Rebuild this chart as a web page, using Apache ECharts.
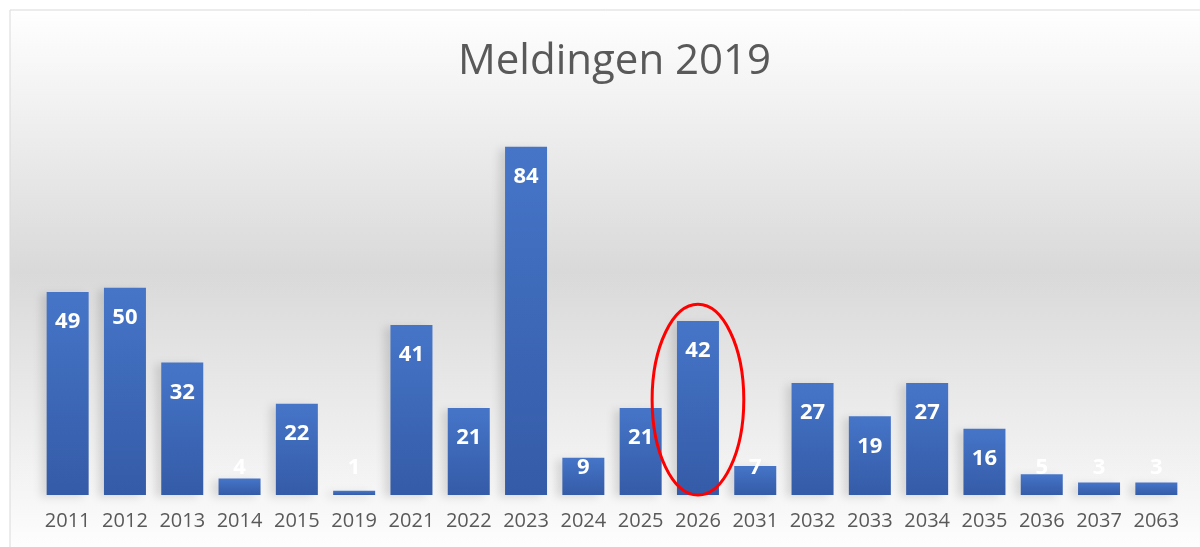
<!DOCTYPE html>
<html>
<head>
<meta charset="utf-8">
<title>Meldingen 2019</title>
<script src="https://cdn.jsdelivr.net/npm/echarts@6/dist/echarts.min.js"></script>
<style>
  html, body { margin: 0; padding: 0; background: #ffffff; }
  #chart { width: 1200px; height: 547px; }
</style>
</head>
<body>
<div id="chart"></div>
<script>
const categories = ['2011', '2012', '2013', '2014', '2015', '2019', '2021', '2022', '2023', '2024',
                    '2025', '2026', '2031', '2032', '2033', '2034', '2035', '2036', '2037', '2063'];
const meldingen = [49, 50, 32, 4, 22, 1, 41, 21, 84, 9, 21, 42, 7, 27, 19, 27, 16, 5, 3, 3];
const highlighted = '2026';

const chart = echarts.init(document.getElementById('chart'));

// short bars get their label lifted off the baseline, like Excel does
const barData = meldingen.map(v => {
    if (v < 14) {
        return { value: v, label: { position: 'insideBottom', distance: 16 } };
    }
    return v;
});

const option = {
    animation: false,
    title: {
        text: 'Meldingen 2019',
        left: 453,
        top: 36,
        textStyle: {
            fontFamily: 'Open Sans',
            fontSize: 42,
            fontWeight: 'normal',
            color: '#595959'
        }
    },
    grid: { left: 39, right: 15, top: 122, bottom: 52 },
    xAxis: {
        type: 'category',
        data: categories,
        axisLine: { show: false },
        axisTick: { show: false },
        axisLabel: {
            interval: 0,
            color: '#595959',
            fontFamily: 'Open Sans',
            fontSize: 20,
            margin: 16
        }
    },
    yAxis: {
        type: 'value',
        min: 0,
        max: 90,
        show: false,
        splitLine: { show: false }
    },
    series: [{
        type: 'bar',
        data: barData,
        barWidth: 42,
        itemStyle: {
            color: new echarts.graphic.LinearGradient(0, 0, 0, 1, [
                { offset: 0, color: '#4675c8' },
                { offset: 1, color: '#345ba7' }
            ]),
            shadowColor: 'rgba(0,0,0,0.12)',
            shadowBlur: 8,
            shadowOffsetX: -6,
            shadowOffsetY: 2
        },
        label: {
            show: true,
            position: 'insideTop',
            distance: 19,
            color: '#ffffff',
            fontFamily: 'Open Sans',
            fontWeight: 'bold',
            fontSize: 22
        }
    }]
};

chart.setOption(option);

// background panel + red ring around the highlighted year
const cx = chart.convertToPixel({ xAxisIndex: 0 }, highlighted);
const yTop = chart.convertToPixel({ yAxisIndex: 0 }, 46);
const yBottom = chart.convertToPixel({ yAxisIndex: 0 }, 0);
const catW = chart.convertToPixel({ xAxisIndex: 0 }, categories[1]) - chart.convertToPixel({ xAxisIndex: 0 }, categories[0]);

chart.setOption({
    graphic: [
        {
            type: 'rect',
            z: -10,
            silent: true,
            shape: { x: 10, y: 10, width: 1200, height: 547 },
            style: {
                fill: new echarts.graphic.LinearGradient(0, 0, 0, 1, [
                    { offset: 0, color: '#ffffff' },
                    { offset: 0.48, color: '#d9d9d9' },
                    { offset: 0.9, color: '#f7f7f7' },
                    { offset: 1, color: '#ffffff' }
                ]),
                stroke: '#d9d9d9',
                lineWidth: 1
            }
        },
        {
            type: 'ellipse',
            z: 100,
            silent: true,
            shape: {
                cx: cx,
                cy: (yTop + yBottom) / 2,
                rx: catW * 0.8,
                ry: (yBottom - yTop) / 2
            },
            style: { fill: null, stroke: '#ff0000', lineWidth: 3 }
        }
    ]
});
</script>
</body>
</html>
